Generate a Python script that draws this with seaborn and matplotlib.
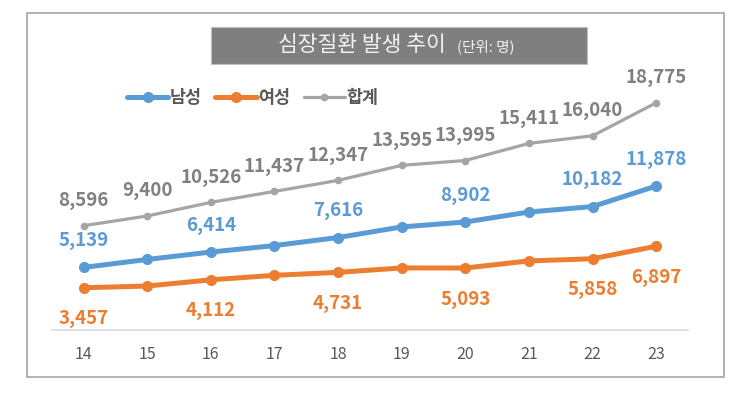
import numpy as np
import pandas as pd
import matplotlib
matplotlib.use("Agg")
import matplotlib.pyplot as plt
import seaborn as sns
from matplotlib.patches import Rectangle

years = [14, 15, 16, 17, 18, 19, 20, 21, 22, 23]
male = [5139, 5800, 6414, 6950, 7616, 8495, 8902, 9730, 10182, 11878]
female = [3457, 3600, 4112, 4487, 4731, 5100, 5093, 5681, 5858, 6897]
total = [8596, 9400, 10526, 11437, 12347, 13595, 13995, 15411, 16040, 18775]
# years whose male / female point carries a data label
labeled_years = [14, 16, 18, 20, 22, 23]

BLUE = "#5B9BD5"
ORANGE = "#ED7D31"
GRAY = "#A5A5A5"
TEXT = "#595959"

sns.set_theme(style="white")
plt.rcParams["font.family"] = ["Noto Sans CJK KR", "DejaVu Sans"]

W, H = 750, 399
fig = plt.figure(figsize=(W / 100, H / 100), dpi=100)

def fx(px):
    return px / W

def fy(py):
    return 1 - py / H

# outer frame
fig.patches.append(Rectangle((fx(27), fy(377)), fx(724) - fx(27), fy(13) - fy(377),
                             transform=fig.transFigure, fill=False,
                             edgecolor="#A6A6A6", linewidth=1.2))

# title box
fig.patches.append(Rectangle((fx(211), fy(64)), fx(587) - fx(211), fy(27) - fy(64),
                             transform=fig.transFigure, facecolor="#7F7F7F",
                             edgecolor="#BFBFBF", linewidth=0.8))
fig.text(fx(362), fy(45), "심장질환 발생 추이", color="#F2F2F2", fontsize=15.5,
         ha="center", va="center")
fig.text(fx(486), fy(46.5), "(단위: 명)", color="#F2F2F2", fontsize=10.5,
         ha="center", va="center")

ax = fig.add_axes([fx(51.7), fy(329.5), fx(688) - fx(51.7), fy(88) - fy(329.5)])

df = pd.DataFrame({"year": years, "남성": male, "여성": female, "합계": total})

sns.lineplot(data=df, x="year", y="남성", ax=ax, color=BLUE, linewidth=3.6,
             marker="o", markersize=8, markeredgewidth=0, label="남성")
sns.lineplot(data=df, x="year", y="여성", ax=ax, color=ORANGE, linewidth=3.6,
             marker="o", markersize=8, markeredgewidth=0, label="여성")
sns.lineplot(data=df, x="year", y="합계", ax=ax, color=GRAY, linewidth=2.3,
             marker="o", markersize=5.5, markeredgewidth=0, label="합계")

lab_kw = dict(textcoords="offset pixels", ha="center", va="center",
              fontsize=13.5, fontweight="bold")
for x, v in zip(years, total):
    ax.annotate(f"{v:,}", (x, v), xytext=(0, 25), color="#808080", **lab_kw)
for x, v in zip(years, male):
    if x in labeled_years:
        ax.annotate(f"{v:,}", (x, v), xytext=(0, 27), color=BLUE, **lab_kw)
for x, v in zip(years, female):
    if x in labeled_years:
        ax.annotate(f"{v:,}", (x, v), xytext=(0, -31), color=ORANGE, **lab_kw)

ax.set_xlim(13.5, 23.5)
ax.set_ylim(0, 20000)
ax.set_xticks(years)
ax.set_xticklabels([str(y) for y in years], color=TEXT, fontsize=11.5)
ax.tick_params(axis="x", length=0, pad=12)
ax.set_yticks([])
ax.set_xlabel("")
ax.set_ylabel("")
for side in ["top", "left", "right"]:
    ax.spines[side].set_visible(False)
ax.spines["bottom"].set_color("#D9D9D9")
ax.spines["bottom"].set_linewidth(1.2)
ax.patch.set_alpha(0)

handles, labels = ax.get_legend_handles_labels()
ax.legend(handles, labels, ncol=3, frameon=False, loc="center left",
          bbox_to_anchor=(fx(118), fy(98)), bbox_transform=fig.transFigure,
          handlelength=2.4, handletextpad=0.05, columnspacing=0.8, borderpad=0,
          prop={"size": 12.5, "weight": "bold"}, labelcolor=TEXT)

fig.savefig("out.png", dpi=100)
